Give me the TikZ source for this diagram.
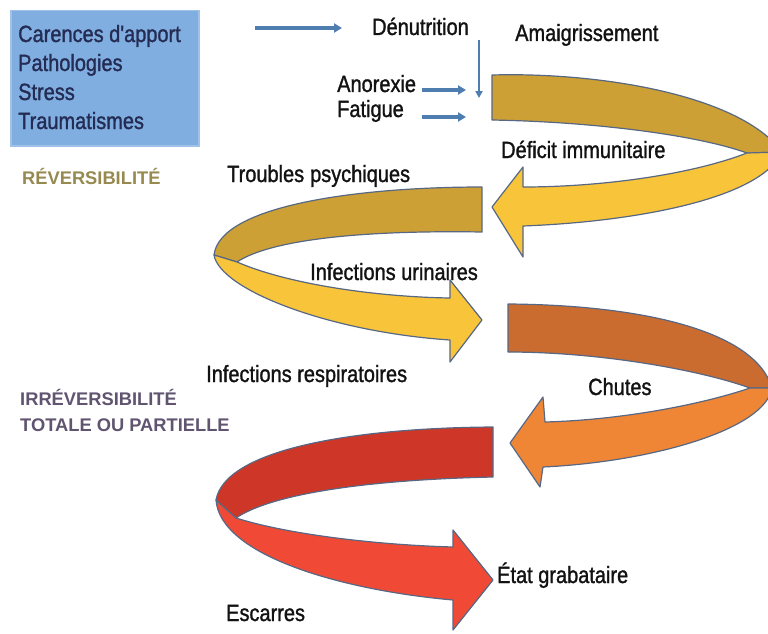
\documentclass[tikz,border=0pt]{standalone}
\usepackage{fontspec}
\setmainfont{Liberation Sans}
\newfontfamily\labelfont{Liberation Sans}[FakeStretch=0.85,FakeBold=1.2]
\usetikzlibrary{arrows.meta}

\definecolor{boxblue}{RGB}{128,174,224}
\definecolor{boxink}{RGB}{36,44,84}
\definecolor{labelink}{RGB}{18,18,18}
\definecolor{arrowblue}{RGB}{78,126,176}
\definecolor{ribbonedge}{RGB}{88,104,132}
\definecolor{goldback}{RGB}{204,160,52}
\definecolor{goldfront}{RGB}{247,196,58}
\definecolor{orangeback}{RGB}{202,108,48}
\definecolor{orangefront}{RGB}{238,134,54}
\definecolor{redback}{RGB}{206,54,40}
\definecolor{redfront}{RGB}{240,74,54}
\definecolor{revink}{RGB}{150,138,80}
\definecolor{irrink}{RGB}{96,84,112}

\begin{document}
\begin{tikzpicture}[x=1pt,y=-1pt,
  lbl/.style={anchor=base west, inner sep=0pt,
    font=\labelfont\fontsize{23.5}{28}\selectfont, text=labelink},
  boxlbl/.style={lbl, text=boxink},
  stage/.style={anchor=base west, inner sep=0pt,
    font=\bfseries\fontsize{18.3}{22}\selectfont},
  ribbon/.style={draw=ribbonedge, line width=1.2pt, line join=round},
  bluearrow/.style={draw=arrowblue, line width=3.5pt,
    -{Triangle[length=8pt,width=9pt]}},
  thinarrow/.style={draw=arrowblue, line width=2.2pt,
    -{Triangle[length=7pt,width=7pt]}}]

\useasboundingbox (0,0) rectangle (768,634);
\fill[white] (0,0) rectangle (768,634);

% causes box
\node (causes) [anchor=north west, fill=boxblue, draw=boxblue!75!white,
  line width=1.5pt, minimum width=188pt, minimum height=135pt] at (10,10) {};
\node (carences) [boxlbl] at (18,42)  {Carences d'apport};
\node (patho)    [boxlbl] at (18,71)  {Pathologies};
\node (stress)   [boxlbl] at (18,100) {Stress};
\node (trauma)   [boxlbl] at (18,129) {Traumatismes};

% stage headings
\node (rev) [stage, text=revink] at (22,184) {RÉVERSIBILITÉ};
\node (irr1) [stage, text=irrink] at (20,405) {IRRÉVERSIBILITÉ};
\node (irr2) [stage, text=irrink] at (20,431) {TOTALE OU PARTIELLE};

% spiral ribbons
\begin{scope}
\clip (0,0) rectangle (768,634);
% first turn (gold, to the right)
\path[ribbon, fill=goldback]
  (492,75) .. controls (600,72) and (740,95) .. (782,152)
  -- (747,153) .. controls (700,136) and (600,122) .. (492,120) -- cycle;
\path[ribbon, fill=goldfront]
  (747,153) .. controls (690,175) and (600,187) .. (523,187)
  -- (523,167) -- (492,207) -- (523,257) -- (523,226)
  .. controls (630,222) and (760,200) .. (782,152) -- cycle;
% second turn (gold, to the left)
\path[ribbon, fill=goldback]
  (482,187) .. controls (360,187) and (220,205) .. (214,255)
  -- (237,262) .. controls (270,240) and (360,230) .. (482,232) -- cycle;
\path[ribbon, fill=goldfront]
  (237,262) .. controls (290,285) and (380,297) .. (450,298)
  -- (450,280) -- (482,320) -- (450,362) -- (450,340)
  .. controls (330,332) and (220,290) .. (214,255) -- cycle;
% third turn (orange, to the right)
\path[ribbon, fill=orangeback]
  (508,304) .. controls (640,305) and (755,330) .. (772,388)
  -- (750,388) .. controls (700,370) and (600,352) .. (508,352) -- cycle;
\path[ribbon, fill=orangefront]
  (750,388) .. controls (700,405) and (620,420) .. (545,422)
  -- (543,397) -- (510,443) -- (540,487) -- (543,467)
  .. controls (650,462) and (765,430) .. (772,388) -- cycle;
% fourth turn (red, to the left)
\path[ribbon, fill=redback]
  (493,427) .. controls (350,428) and (225,450) .. (216,500)
  -- (236,518) .. controls (270,495) and (360,480) .. (493,477) -- cycle;
\path[ribbon, fill=redfront]
  (236,518) .. controls (290,535) and (380,545) .. (453,547)
  -- (453,530) -- (493,580) -- (453,630) -- (453,600)
  .. controls (340,590) and (220,555) .. (216,500) -- cycle;
\end{scope}

% labels
\node (denut)   [lbl] at (372,35)  {Dénutrition};
\node (amaig)   [lbl] at (515,41)  {Amaigrissement};
\node (anorex)  [lbl] at (337,92)  {Anorexie};
\node (fatig)   [lbl] at (337,117) {Fatigue};
\node (deficit) [lbl] at (501,158) {Déficit immunitaire};
\node (troubl)  [lbl] at (227,182) {Troubles\hspace{6pt}psychiques};
\node (urin)    [lbl] at (310,280) {Infections urinaires};
\node (respi)   [lbl] at (206,382) {Infections respiratoires};
\node (chutes)  [lbl] at (588,395) {Chutes};
\node (etat)    [lbl] at (497,583) {État grabataire};
\node (escar)   [lbl] at (226,621) {Escarres};

% blue connectors
\coordinate (toDenutA) at (255,28);
\coordinate (toDenutB) at (342,28);
\draw[bluearrow] (toDenutA) -- (toDenutB);
\coordinate (downA) at (479,40);
\coordinate (downB) at (479,98);
\draw[thinarrow] (downA) -- (downB);
\coordinate (anoA) at (422,90);
\coordinate (anoB) at (466,90);
\draw[bluearrow] (anoA) -- (anoB);
\coordinate (fatA) at (422,117);
\coordinate (fatB) at (466,117);
\draw[bluearrow] (fatA) -- (fatB);
\end{tikzpicture}
\end{document}
